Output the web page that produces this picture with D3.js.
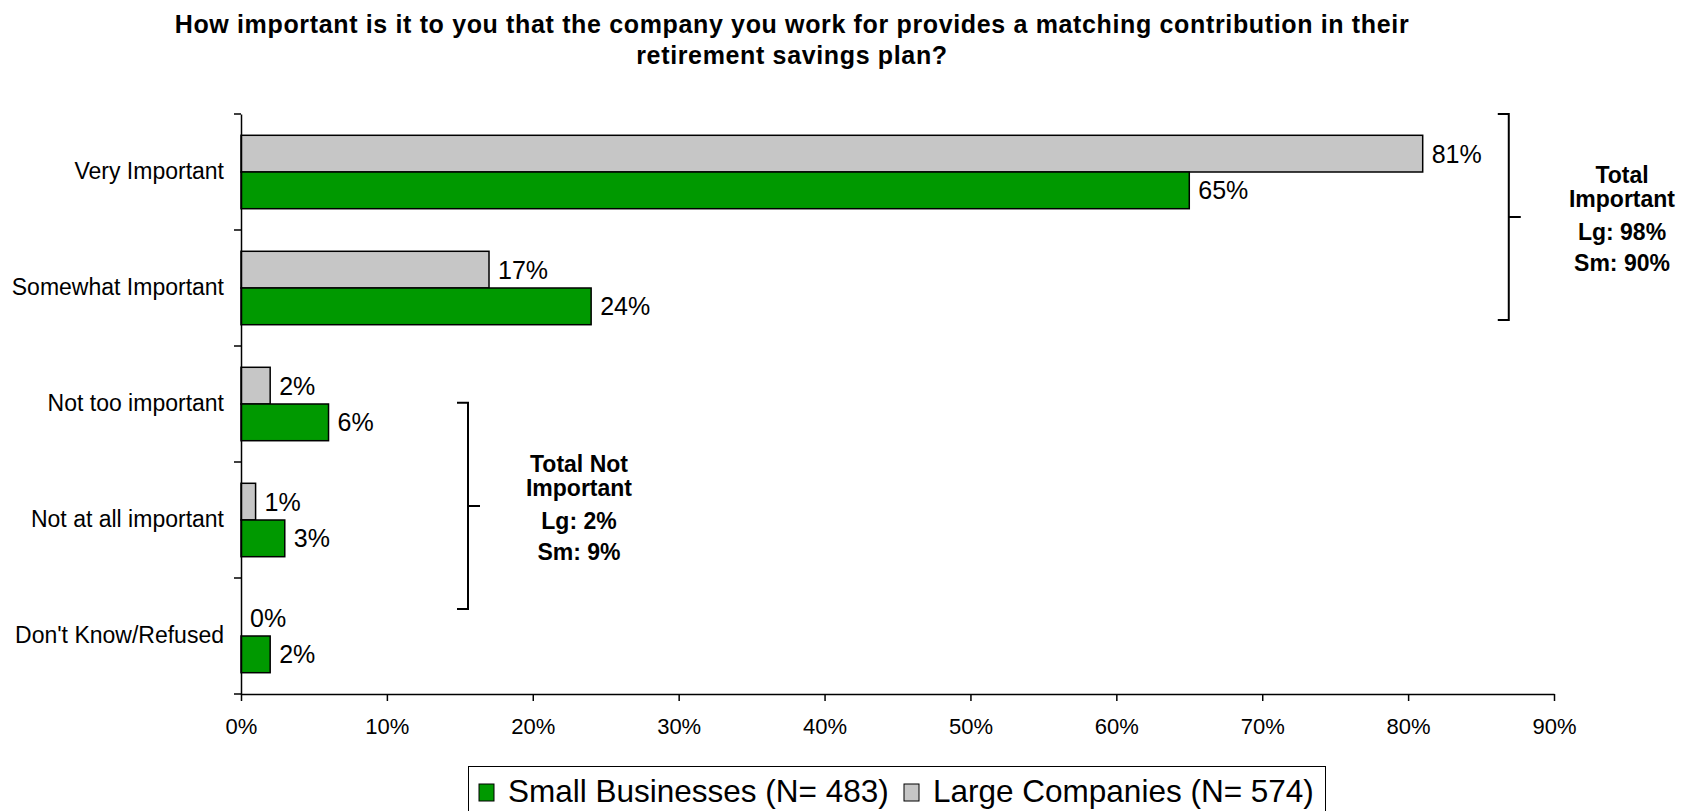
<!DOCTYPE html>
<html>
<head>
<meta charset="utf-8">
<script src="https://cdn.jsdelivr.net/npm/d3@7"></script>
<style>
  html, body { margin: 0; padding: 0; background: #fff; }
  svg { display: block; font-family: "Liberation Sans", Arial, sans-serif; }
</style>
</head>
<body>
<svg id="chart" width="1695" height="811"></svg>
<script>
// Survey responses (percent of respondents)
const categories = ["Very Important", "Somewhat Important", "Not too important", "Not at all important", "Don't Know/Refused"];
const largeValues = [81, 17, 2, 1, 0];
const smallValues = [65, 24, 6, 3, 2];
const seriesNames = ["Large Companies (N= 574)", "Small Businesses (N= 483)"];
const seriesKeys = ["large", "small"];
const xTicks = [0, 10, 20, 30, 40, 50, 60, 70, 80, 90];

const titleLines = [
  "How important is it to you that the company you work for provides a matching contribution in their",
  "retirement savings plan?"
];
const totalImportantLines = ["Total", "Important", "Lg: 98%", "Sm: 90%"];
const totalNotImportantLines = ["Total Not", "Important", "Lg: 2%", "Sm: 9%"];

const colors = { large: "#c6c6c6", small: "#009900" };

const rows = categories.map((c, i) => ({ category: c, large: largeValues[i], small: smallValues[i] }));

const svg = d3.select("#chart");
const plot = { left: 241, right: 1554, top: 114, bottom: 694 };

const x = d3.scaleLinear().domain([0, 90]).range([plot.left, plot.right]);
const y = d3.scaleBand().domain(categories).range([plot.top, plot.bottom]).paddingInner(0).paddingOuter(0);
const ySub = d3.scaleBand().domain(seriesKeys).range([0, y.bandwidth()])
  .paddingInner(0).paddingOuter(0.58).align(0.5);

// Title
svg.append("g")
  .selectAll("text")
  .data(titleLines)
  .join("text")
  .attr("x", 792)
  .attr("y", (d, i) => 33 + i * 31)
  .attr("text-anchor", "middle")
  .attr("font-weight", "bold")
  .attr("font-size", 25)
  .attr("letter-spacing", 0.65)
  .attr("fill", "#000")
  .text(d => d);

// Bars
const groups = svg.append("g")
  .selectAll("g")
  .data(rows)
  .join("g")
  .attr("transform", d => `translate(0,${y(d.category)})`);

groups.selectAll("rect")
  .data(d => seriesKeys.map(k => ({ key: k, value: d[k] })))
  .join("rect")
  .attr("x", x(0))
  .attr("y", d => ySub(d.key))
  .attr("width", d => x(d.value) - x(0))
  .attr("height", ySub.bandwidth())
  .attr("fill", d => colors[d.key])
  .attr("stroke", "#000")
  .attr("stroke-width", 1.5);

groups.selectAll("text.value")
  .data(d => seriesKeys.map(k => ({ key: k, value: d[k] })))
  .join("text")
  .attr("class", "value")
  .attr("x", d => x(d.value) + 9)
  .attr("y", d => ySub(d.key) + ySub.bandwidth() / 2)
  .attr("dy", "0.36em")
  .attr("font-size", 25)
  .attr("fill", "#000")
  .text(d => d.value + "%");

// Y axis
const yAxis = d3.axisLeft(y).tickSize(0).tickPadding(17);
const yg = svg.append("g").attr("transform", `translate(${plot.left},0)`).call(yAxis);
yg.select(".domain").attr("stroke", "#000").attr("stroke-width", 1.5);
yg.selectAll(".tick text").attr("font-size", 23).attr("fill", "#000").attr("font-family", "Liberation Sans, Arial, sans-serif");

// Category boundary ticks on the y axis
const boundaries = categories.map(c => y(c)).concat([y.range()[1]]);
svg.append("g")
  .selectAll("line")
  .data(boundaries)
  .join("line")
  .attr("x1", plot.left - 7)
  .attr("x2", plot.left)
  .attr("y1", d => d)
  .attr("y2", d => d)
  .attr("stroke", "#000")
  .attr("stroke-width", 1.5);

// X axis
const xAxis = d3.axisBottom(x).tickValues(xTicks).tickFormat(d => d + "%").tickSize(7).tickPadding(17).tickSizeOuter(0);
const xg = svg.append("g").attr("transform", `translate(0,${plot.bottom})`).call(xAxis);
xg.select(".domain").attr("stroke", "#000").attr("stroke-width", 1.5);
xg.selectAll(".tick line").attr("stroke", "#000").attr("stroke-width", 1.5);
xg.selectAll(".tick text").attr("font-size", 22).attr("fill", "#000").attr("font-family", "Liberation Sans, Arial, sans-serif");

// Brackets grouping the response categories
function bracket(xVal, topBand, bottomBand, lines, textX) {
  const step = y.step();
  const bx = x(xVal);
  const top = plot.top + topBand * step;
  const bottom = plot.top + bottomBand * step;
  const mid = (top + bottom) / 2;
  const g = svg.append("g");
  g.append("path")
    .attr("d", `M${bx - 11},${top}H${bx}V${bottom}H${bx - 11}M${bx},${mid}H${bx + 12}`)
    .attr("fill", "none")
    .attr("stroke", "#000")
    .attr("stroke-width", 2);
  const offsets = [-34, -10, 23, 54];
  g.selectAll("text")
    .data(lines)
    .join("text")
    .attr("x", textX)
    .attr("y", (d, i) => mid + offsets[i])
    .attr("text-anchor", "middle")
    .attr("font-weight", "bold")
    .attr("font-size", 23)
    .attr("fill", "#000")
    .text(d => d);
}
bracket(86.9, 0, 1.776, totalImportantLines, 1622);
bracket(15.56, 2.49, 4.267, totalNotImportantLines, 579);

// Legend
const legendItems = [
  { key: "small", label: seriesNames[1] },
  { key: "large", label: seriesNames[0] }
];
const legend = svg.append("g");
legend.append("rect")
  .attr("x", 468.5)
  .attr("y", 766.5)
  .attr("width", 857)
  .attr("height", 70)
  .attr("fill", "#fff")
  .attr("stroke", "#000")
  .attr("stroke-width", 1);
const legendX = [479, 904];
const li = legend.selectAll("g.item")
  .data(legendItems)
  .join("g")
  .attr("class", "item")
  .attr("transform", (d, i) => `translate(${legendX[i]},0)`);
li.append("rect")
  .attr("x", 0)
  .attr("y", 784)
  .attr("width", 15)
  .attr("height", 17)
  .attr("fill", d => colors[d.key])
  .attr("stroke", "#000")
  .attr("stroke-width", 1);
li.append("text")
  .attr("x", 29)
  .attr("y", 802)
  .attr("font-size", 31.5)
  .attr("fill", "#000")
  .text(d => d.label);
</script>
</body>
</html>
